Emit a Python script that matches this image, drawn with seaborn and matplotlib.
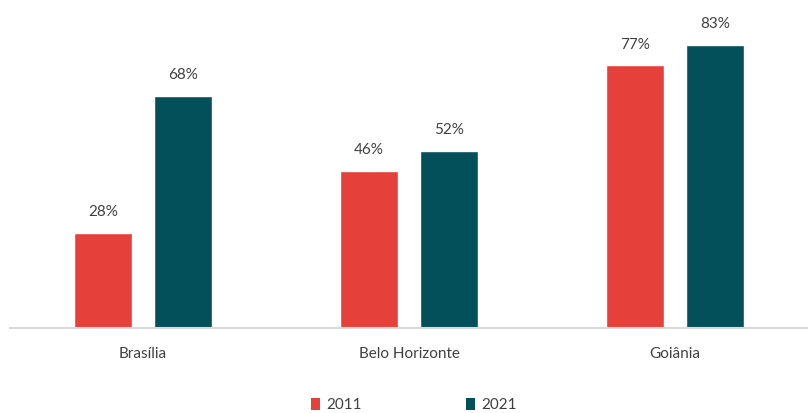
import matplotlib
matplotlib.use("Agg")
import matplotlib.pyplot as plt
import seaborn as sns
import pandas as pd
from matplotlib.patches import Patch

cities = ["Brasília", "Belo Horizonte", "Goiânia"]
years = ["2011", "2021"]
values_2011 = [28, 46, 77]
values_2021 = [68, 52, 83]
colors = ["#E5403A", "#03505A"]

df = pd.DataFrame({
    "city": cities * 2,
    "year": [years[0]] * 3 + [years[1]] * 3,
    "value": values_2011 + values_2021,
})

sns.set_theme(style="white")
plt.rcParams["font.family"] = ["Lato", "DejaVu Sans"]

W, H = 808, 413
fig = plt.figure(figsize=(W / 100, H / 100), dpi=100)
ymax = 90
px_per_unit = 3.41
ax_h = ymax * px_per_unit
ax = fig.add_axes([10 / W, (H - 328) / H, 798 / W, ax_h / H])

sns.barplot(data=df, x="city", y="value", hue="year", palette=colors,
            width=0.6, gap=0.27, ax=ax, legend=False, saturation=1)

ax.set_ylim(0, ymax)
ax.set_xlim(-0.5, 2.5)
for c in ax.containers:
    ax.bar_label(c, labels=[f"{v:.0f}%" for v in c.datavalues], padding=10,
                 fontsize=11, color="#404040")

ax.set_xlabel("")
ax.set_ylabel("")
ax.set_yticks([])
for s in ["top", "right", "left"]:
    ax.spines[s].set_visible(False)
ax.spines["bottom"].set_color("#D9D9D9")
ax.spines["bottom"].set_linewidth(1.5)
ax.tick_params(axis="x", length=0, pad=14, labelsize=11, labelcolor="#404040")

handles = [Patch(facecolor=col, edgecolor="none") for col in colors]
fig.legend(handles, years, loc="center", bbox_to_anchor=(0.512, 1 - 405 / H),
           ncol=2, frameon=False, fontsize=11, handlelength=0.6,
           handleheight=0.9, handletextpad=0.4, columnspacing=6.8,
           labelcolor="#404040")

fig.savefig("out.png", dpi=100)
